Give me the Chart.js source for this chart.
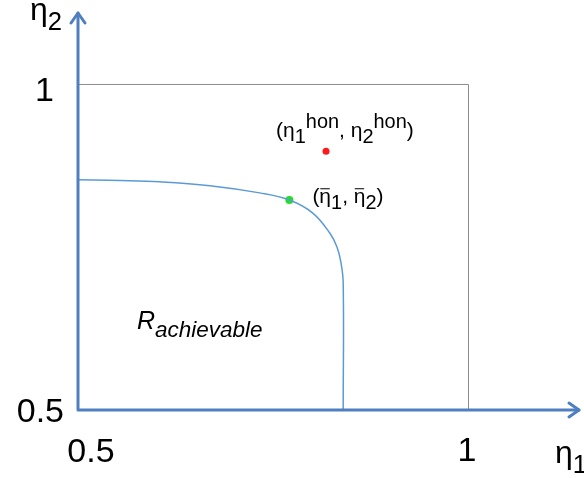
<!DOCTYPE html>
<html>
<head>
<meta charset="utf-8">
<script src="https://cdn.jsdelivr.net/npm/chart.js@4"></script>
<style>
  body { margin: 0; background: #fff; }
  canvas { display: block; }
</style>
</head>
<body>
<canvas id="region-chart" width="584" height="478"></canvas>
<script>
// boundary of the achievable region (eta1, eta2)
const curveX = [0.5, 0.554, 0.605, 0.669, 0.733, 0.771, 0.801, 0.823, 0.832, 0.837, 0.840, 0.840];
const curveY = [0.853, 0.852, 0.850, 0.844, 0.833, 0.822, 0.802, 0.771, 0.750, 0.727, 0.695, 0.5];
const honestPoint = [0.818, 0.897];
const optimalPoint = [0.771, 0.822];
const tickValues = [0.5, 1];
const axisMax = [1.1436, 1.1104];

const axisBlue = '#4f7fc0';
const font = '"Liberation Sans", Arial, sans-serif';

// draw text made of pieces (normal / sub / sup / bar over)
function richText(ctx, x, y, parts, size, italic, ratio) {
    let cx = x;
    const r = ratio || 0.8;
    parts.forEach(p => {
        let s = size, dy = 0;
        if (p.sub) { s = size * r; dy = size * 0.3; }
        if (p.sup) { s = size * r; dy = -size * 0.45; }
        ctx.font = (italic ? 'italic ' : '') + s + 'px ' + font;
        ctx.fillText(p.t, cx, y + dy);
        const w = ctx.measureText(p.t).width;
        if (p.bar) {
            ctx.save();
            ctx.strokeStyle = ctx.fillStyle;
            ctx.lineWidth = 1.2;
            ctx.beginPath();
            ctx.moveTo(cx + w * 0.12, y - s * 0.68);
            ctx.lineTo(cx + w * 0.85, y - s * 0.68);
            ctx.stroke();
            ctx.restore();
        }
        cx += w;
    });
}

const decorPlugin = {
    id: 'decor',
    beforeDatasetsDraw(chart) {
        const ctx = chart.ctx;
        const xs = chart.scales.x, ys = chart.scales.y;
        ctx.save();
        ctx.strokeStyle = '#8c8c8c';
        ctx.lineWidth = 1;
        ctx.beginPath();
        ctx.moveTo(xs.getPixelForValue(0.5), ys.getPixelForValue(1) + 0.5);
        ctx.lineTo(xs.getPixelForValue(1) + 0.5, ys.getPixelForValue(1) + 0.5);
        ctx.lineTo(xs.getPixelForValue(1) + 0.5, ys.getPixelForValue(0.5));
        ctx.stroke();
        ctx.restore();
    },
    afterDatasetsDraw(chart) {
        const ctx = chart.ctx;
        const xs = chart.scales.x, ys = chart.scales.y;
        const x0 = xs.getPixelForValue(0.5), y0 = ys.getPixelForValue(0.5);
        const xEnd = xs.getPixelForValue(axisMax[0]), yEnd = ys.getPixelForValue(axisMax[1]);
        ctx.save();
        ctx.strokeStyle = axisBlue;
        ctx.lineWidth = 3;
        ctx.lineCap = 'round';
        ctx.lineJoin = 'round';
        ctx.beginPath();
        ctx.moveTo(x0, yEnd + 1);
        ctx.lineTo(x0, y0);
        ctx.lineTo(xEnd - 1, y0);
        ctx.stroke();
        // arrow heads
        ctx.beginPath();
        ctx.moveTo(x0 - 7, yEnd + 11);
        ctx.lineTo(x0, yEnd + 1);
        ctx.lineTo(x0 + 7, yEnd + 11);
        ctx.moveTo(xEnd - 11, y0 - 7);
        ctx.lineTo(xEnd - 1, y0);
        ctx.lineTo(xEnd - 11, y0 + 7);
        ctx.stroke();

        // tick labels
        ctx.fillStyle = '#000';
        ctx.textBaseline = 'alphabetic';
        ctx.font = '34px ' + font;
        ctx.textAlign = 'right';
        ctx.fillText(String(tickValues[1]), 54, ys.getPixelForValue(tickValues[1]) + 17);
        ctx.fillText(String(tickValues[0]), 64, ys.getPixelForValue(tickValues[0]) + 12);
        ctx.textAlign = 'center';
        ctx.fillText(String(tickValues[0]), x0 + 13, 462);
        ctx.fillText(String(tickValues[1]), xs.getPixelForValue(tickValues[1]) - 1, 461);

        // axis titles
        ctx.textAlign = 'left';
        richText(ctx, 30, 20, [{t: 'η'}, {t: '2', sub: true}], 32);
        richText(ctx, 555, 463, [{t: 'η'}, {t: '1', sub: true}], 32);

        // point labels
        const size = 21;
        const hx = xs.getPixelForValue(honestPoint[0]), hy = ys.getPixelForValue(honestPoint[1]);
        richText(ctx, hx - 50, hy - 14, [
            {t: '(η'}, {t: '1', sub: true}, {t: 'hon', sup: true}, {t: ', η'},
            {t: '2', sub: true}, {t: 'hon', sup: true}, {t: ')'}
        ], size, false, 0.95);
        const ox = xs.getPixelForValue(optimalPoint[0]), oy = ys.getPixelForValue(optimalPoint[1]);
        richText(ctx, ox + 23, oy + 3, [
            {t: '('}, {t: 'η', bar: true}, {t: '1', sub: true}, {t: ', '},
            {t: 'η', bar: true}, {t: '2', sub: true}, {t: ')'}
        ], size, false, 0.95);

        // region label
        richText(ctx, 137, 329, [{t: 'R'}, {t: 'achievable', sub: true}], 25, true, 0.9);
        ctx.restore();
    }
};

const curveData = curveX.map((x, i) => ({x: x, y: curveY[i]}));

new Chart(document.getElementById('region-chart'), {
    type: 'scatter',
    data: {
        datasets: [{
            data: curveData,
            showLine: true,
            borderColor: '#5b9bd5',
            borderWidth: 1.5,
            pointRadius: 0,
            tension: 0.4
        }, {
            data: [{x: honestPoint[0], y: honestPoint[1]}],
            pointRadius: 3.5,
            backgroundColor: '#ff1a1a',
            borderWidth: 0
        }, {
            data: [{x: optimalPoint[0], y: optimalPoint[1]}],
            pointRadius: 4,
            backgroundColor: '#22e022',
            borderWidth: 0
        }]
    },
    options: {
        responsive: false,
        animation: false,
        layout: { padding: { left: 78, right: 4, top: 12, bottom: 68 } },
        plugins: { legend: { display: false }, tooltip: { enabled: false } },
        scales: {
            x: { type: 'linear', min: 0.5, max: axisMax[0], display: false },
            y: { type: 'linear', min: 0.5, max: axisMax[1], display: false }
        }
    },
    plugins: [decorPlugin]
});
</script>
</body>
</html>
